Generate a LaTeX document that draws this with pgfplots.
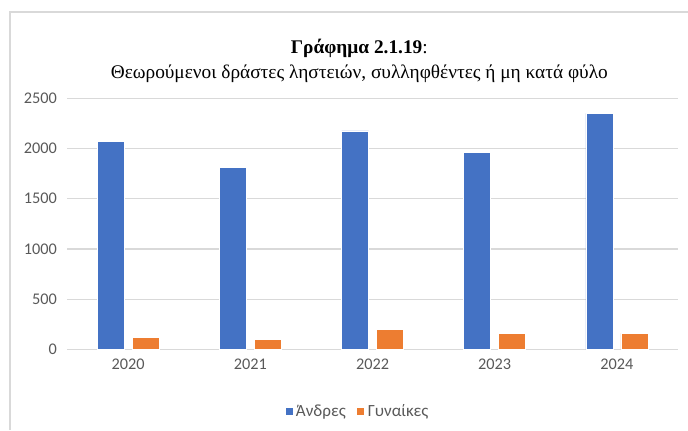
\documentclass[border=0pt]{standalone}
\usepackage{fontspec}
\setmainfont{Liberation Serif}
\newfontfamily\carlito{Carlito}
\usepackage{pgfplots}
\pgfplotsset{compat=1.18}
\definecolor{xlblue}{HTML}{4472C4}
\definecolor{xlorange}{HTML}{ED7D31}
\definecolor{gridgray}{HTML}{D9D9D9}
\definecolor{labgray}{HTML}{595959}
\begin{document}
\begin{tikzpicture}
  % canvas: 688x430 px at 0.75pt per px
  \path[use as bounding box] (0,0) rectangle (516pt,322.5pt);
  \draw[gridgray, line width=1pt] (7.5pt,0) -- (7.5pt,313.5pt) -- (520pt,313.5pt);

  \node[font=\fontsize{14.5}{17}\selectfont] at (269.5pt,286.5pt) {\textbf{Γράφημα 2.1.19}:};
  \node[font=\fontsize{14.5}{17}\selectfont] at (269.5pt,267.5pt) {Θεωρούμενοι δράστες ληστειών, συλληφθέντες ή μη κατά φύλο};

  \begin{axis}[
      at={(50.25pt,60.5pt)}, anchor=south west,
      scale only axis,
      width=458.25pt, height=188.25pt,
      ybar, bar width=20.25pt,
      xmin=-0.5, xmax=4.5,
      ymin=0, ymax=2500,
      ytick={0,500,...,2500},
      xtick={0,1,2,3,4},
      xticklabels={2020,2021,2022,2023,2024},
      axis line style={draw=none},
      major tick length=0pt,
      ymajorgrids,
      grid style={gridgray, line width=0.9pt},
      tick label style={font=\carlito\fontsize{12.2}{14}\selectfont, text=labgray},
      /pgf/number format/assume math mode=true,
      /pgf/number format/1000 sep={},
      yticklabel style={xshift=-4pt},
      xticklabel style={yshift=-4pt},
      legend columns=2,
      legend style={at={(0.5,0)}, anchor=center, yshift=-46.8pt, xshift=-11pt,
        draw=none, fill=none,
        font=\carlito\fontsize{12.8}{15}\selectfont, text=labgray,
        /tikz/every even column/.append style={column sep=6pt}},
      legend image code/.code={\fill[#1] (0pt,-3pt) rectangle (6pt,3pt);},
    ]
    \addplot[fill=xlblue, draw=white, line width=0.5pt, bar shift=-13.1pt] coordinates {
      (0,2070) (1,1815) (2,2175) (3,1965) (4,2350)
    };
    \addplot[fill=xlorange, draw=white, line width=0.5pt, bar shift=13.1pt] coordinates {
      (0,115) (1,95) (2,200) (3,160) (4,160)
    };
    \legend{Άνδρες, Γυναίκες}
  \end{axis}
\end{tikzpicture}
\end{document}
